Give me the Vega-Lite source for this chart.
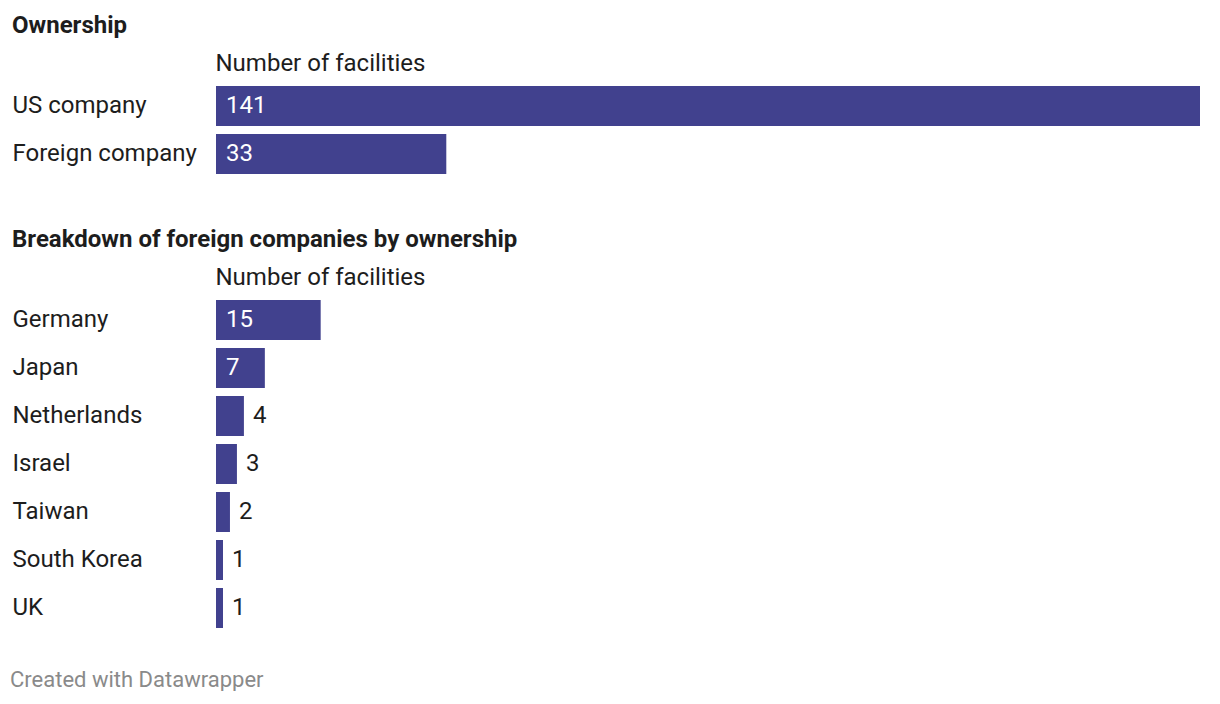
{
  "$schema": "https://vega.github.io/schema/vega-lite/v6.json",
  "background": "white",
  "padding": {"left": 10, "top": 14, "right": 0, "bottom": 0},
  "config": {"font": "Roboto", "view": {"stroke": null}, "concat": {"spacing": 50}},
  "datasets": {
    "ownership": [
      {"category": "US company", "facilities": 141},
      {"category": "Foreign company", "facilities": 33}
    ],
    "foreign": [
      {"category": "Germany", "facilities": 15},
      {"category": "Japan", "facilities": 7},
      {"category": "Netherlands", "facilities": 4},
      {"category": "Israel", "facilities": 3},
      {"category": "Taiwan", "facilities": 2},
      {"category": "South Korea", "facilities": 1},
      {"category": "UK", "facilities": 1}
    ]
  },
  "title": {"text": "Created with Datawrapper", "orient": "bottom", "anchor": "start", "frame": "bounds", "fontSize": 22, "fontWeight": "normal", "color": "#8a8a8a", "offset": 38, "dx": -2},
  "vconcat": [
    {
      "data": {"name": "ownership"},
      "width": 984,
      "height": {"step": 48},
      "title": {"text": "Ownership", "anchor": "start", "frame": "group", "dx": -204, "fontSize": 24, "fontWeight": "bold", "color": "#1d1d1d", "offset": 13},
      "encoding": {
        "y": {"field": "category", "type": "nominal", "sort": null,
          "scale": {"paddingInner": 0.1667, "paddingOuter": 0.0833},
          "axis": {"title": null, "ticks": false, "domain": false, "labelAlign": "left", "labelPadding": 204, "labelFontSize": 24, "labelColor": "#1d1d1d", "labelLimit": 300, "labelBaseline": "middle"}}
      },
      "layer": [
        {"mark": {"type": "bar", "color": "#41418e"},
         "encoding": {"x": {"field": "facilities", "type": "quantitative", "scale": {"domain": [0, 141], "nice": false},
           "axis": {"orient": "top", "title": "Number of facilities", "labels": false, "ticks": false, "domain": false, "grid": false, "titleAnchor": "start", "titleAlign": "left", "titleFontSize": 24, "titleFontWeight": "normal", "titleColor": "#1d1d1d", "titleX": -1, "titleY": -12, "titleBaseline": "alphabetic"}}}},
        {"transform": [{"filter": "datum.facilities >= 5"}],
         "mark": {"type": "text", "align": "left", "baseline": "middle", "dx": 10, "color": "white", "fontSize": 24},
         "encoding": {"x": {"datum": 0, "type": "quantitative"}, "text": {"field": "facilities", "type": "quantitative"}}},
        {"transform": [{"filter": "datum.facilities < 5"}],
         "mark": {"type": "text", "align": "left", "baseline": "middle", "dx": 9, "color": "#1d1d1d", "fontSize": 24},
         "encoding": {"x": {"field": "facilities", "type": "quantitative"}, "text": {"field": "facilities", "type": "quantitative"}}}
      ]
    },
    {
      "data": {"name": "foreign"},
      "width": 984,
      "height": {"step": 48},
      "title": {"text": "Breakdown of foreign companies by ownership", "anchor": "start", "frame": "group", "dx": -204, "fontSize": 24, "fontWeight": "bold", "color": "#1d1d1d", "offset": 13},
      "encoding": {
        "y": {"field": "category", "type": "nominal", "sort": null,
          "scale": {"paddingInner": 0.1667, "paddingOuter": 0.0833},
          "axis": {"title": null, "ticks": false, "domain": false, "labelAlign": "left", "labelPadding": 204, "labelFontSize": 24, "labelColor": "#1d1d1d", "labelLimit": 300, "labelBaseline": "middle"}}
      },
      "layer": [
        {"mark": {"type": "bar", "color": "#41418e"},
         "encoding": {"x": {"field": "facilities", "type": "quantitative", "scale": {"domain": [0, 141], "nice": false},
           "axis": {"orient": "top", "title": "Number of facilities", "labels": false, "ticks": false, "domain": false, "grid": false, "titleAnchor": "start", "titleAlign": "left", "titleFontSize": 24, "titleFontWeight": "normal", "titleColor": "#1d1d1d", "titleX": -1, "titleY": -12, "titleBaseline": "alphabetic"}}}},
        {"transform": [{"filter": "datum.facilities >= 5"}],
         "mark": {"type": "text", "align": "left", "baseline": "middle", "dx": 10, "color": "white", "fontSize": 24},
         "encoding": {"x": {"datum": 0, "type": "quantitative"}, "text": {"field": "facilities", "type": "quantitative"}}},
        {"transform": [{"filter": "datum.facilities < 5"}],
         "mark": {"type": "text", "align": "left", "baseline": "middle", "dx": 9, "color": "#1d1d1d", "fontSize": 24},
         "encoding": {"x": {"field": "facilities", "type": "quantitative"}, "text": {"field": "facilities", "type": "quantitative"}}}
      ]
    }
  ]
}
